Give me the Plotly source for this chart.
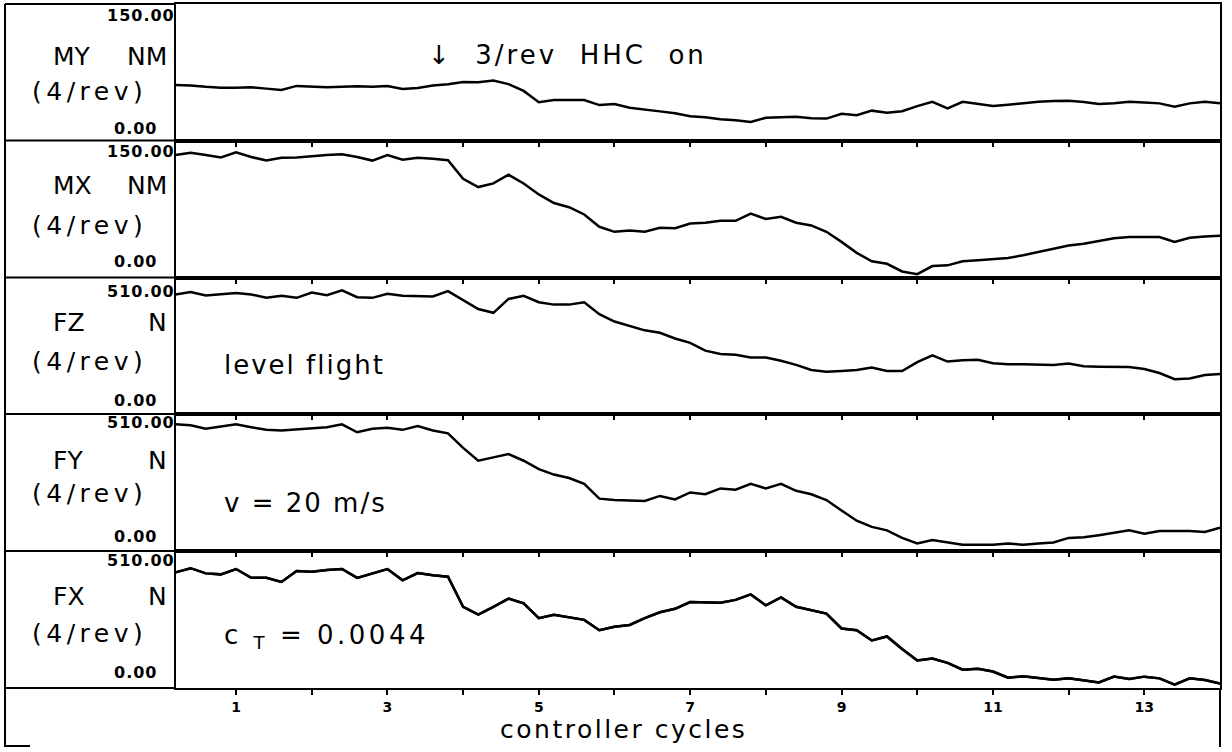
import plotly.graph_objects as go

W, H = 1232, 752

# ---------------- data ----------------
cycles = [0.2, 0.4, 0.6, 0.8, 1.0, 1.2, 1.4, 1.6, 1.8, 2.0,
          2.2, 2.4, 2.6, 2.8, 3.0, 3.2, 3.4, 3.6, 3.8, 4.0,
          4.2, 4.4, 4.6, 4.8, 5.0, 5.2, 5.4, 5.6, 5.8, 6.0,
          6.2, 6.4, 6.6, 6.8, 7.0, 7.2, 7.4, 7.6, 7.8, 8.0,
          8.2, 8.4, 8.6, 8.8, 9.0, 9.2, 9.4, 9.6, 9.8, 10.0,
          10.2, 10.4, 10.6, 10.8, 11.0, 11.2, 11.4, 11.6, 11.8, 12.0,
          12.2, 12.4, 12.6, 12.8, 13.0, 13.2, 13.4, 13.6, 13.8, 14.0]

my_nm = [61, 60.5, 59, 58, 58, 58.5, 57, 55.5, 60, 59,
         58.5, 59, 59.5, 59, 60, 56.7, 57.8, 60.5, 61.7, 64.4,
         63.9, 66, 62, 54.5, 42, 44.4, 44.4, 44.4, 38.9, 40,
         36, 34.4, 32, 30, 26.7, 25.5, 23.3, 22.2, 20.3, 25,
         25.5, 26, 24.4, 24.1, 29.4, 27.8, 32.8, 30.5, 32.2, 37.8,
         42.5, 35.2, 42.5, 40, 37.8, 39.4, 41, 42.5, 43.3, 43.7,
         42.2, 40, 41, 42.5, 41.7, 40.8, 37, 40.8, 42.5, 40.8]

mx_nm = [134, 136.5, 134, 131.5, 137, 132, 128, 131, 131.5, 133,
         134, 135, 132, 128, 134, 129, 131, 130, 128.5, 108,
         99, 103, 112.5, 103, 91, 81.5, 77, 69, 55.5, 50,
         51.5, 50, 54.5, 54, 59, 60, 62, 62, 70, 64,
         66.5, 60, 57, 50, 39, 27, 17.7, 15, 6.6, 3.7,
         12.5, 13.3, 17.7, 19, 20, 21.4, 24.4, 27.7, 31, 35,
         37, 40, 43, 44.3, 44.3, 44.3, 39, 43.6, 45, 45.8]

fz_n = [446.7, 455.6, 443, 446.7, 451.8, 446.7, 434, 441.7, 434, 454,
        444, 462, 436.6, 434, 449, 441.7, 441.7, 439, 459, 424,
        392, 378, 430, 441.7, 417.6, 408.7, 408.7, 417.6, 373, 345.5,
        329, 312.6, 303.7, 282, 265.7, 236.6, 224, 221.5, 211.3, 211.3,
        198.7, 183.5, 164.5, 158, 160.7, 164.5, 173.4, 160.7, 160.7, 193.6,
        219, 196, 201, 202.5, 189.8, 186, 186, 183.5, 183.5, 188.5,
        178.4, 177, 177, 176, 168, 153, 130, 133, 145.5, 149]

fy_n = [471.6, 467.7, 455, 464, 471.6, 461, 451, 448.5, 453.6, 457.5,
        461, 471.6, 442, 455, 458.8, 451, 465, 448.5, 438, 384,
        336, 348.5, 361, 336, 305, 284.5, 271.6, 250, 195, 189.6,
        187, 186, 205, 192, 218, 211.4, 233, 228, 250, 233,
        250, 224, 211, 189.6, 151, 112.8, 89.7, 76.9, 48.7, 28,
        41, 32, 23, 23, 23, 28, 23, 28, 32, 48.7,
        51, 59, 66.6, 77, 64, 74, 74, 74, 70.5, 87]

fx_n = [430.5, 446, 426.7, 423, 443, 410, 410, 394.7, 435.7, 433,
        439.5, 443, 410, 426.7, 443, 401, 428, 420, 414, 302.4,
        273, 302.4, 333, 315, 260, 273, 264, 253.7, 215, 228,
        234.5, 260, 282, 294.7, 320, 320, 317.8, 328, 348.5, 307.5,
        337, 302.4, 289.6, 276.8, 221.7, 215, 177, 192, 145, 102.5,
        110, 93.5, 68, 71.8, 61.5, 38.4, 43.6, 35.9, 30.8, 35.9,
        29.5, 20.5, 42.3, 33.3, 42.3, 35.9, 12.8, 35.9, 29.5, 16.7]

series = [my_nm, mx_nm, fz_n, fy_n, fx_n]
y_max = [150, 150, 510, 510, 510]
max_labels = ["150.00", "150.00", "510.00", "510.00", "510.00"]
names = ["MY", "MX", "FZ", "FY", "FX"]
units = ["NM", "NM", "N", "N", "N"]
x_tickvals = [1, 2, 3, 4, 5, 6, 7, 8, 9, 10, 11, 12, 13]
x_labelvals = [1, 3, 5, 7, 9, 11, 13]
x_labeltext = ["1", "3", "5", "7", "9", "11", "13"]
x_minorvals = [2, 4, 6, 8, 10, 12]

# ---------------- layout geometry (pixels) ----------------
PLOT_L, PLOT_R = 175.5, 1220
FRAME_L, FRAME_R, FRAME_T, FRAME_B = 5, 1220, 4, 747
bounds = [4, 140.5, 277.5, 414, 551, 688]

def px_x(x):
    return x / W

def px_y(y):
    return 1 - y / H

FONT = "DejaVu Sans"
XR = [0.2, 14.0]

fig = go.Figure()
for i, s in enumerate(series):
    k = "" if i == 0 else str(i + 1)
    fig.add_trace(go.Scatter(x=cycles, y=s, mode="lines",
                             line=dict(color="black", width=2.5),
                             xaxis="x" + k, yaxis="y" + k,
                             showlegend=False, hoverinfo="skip"))
# same FX line on the overlaid top-tick axis of the bottom panel (exactly coincident)
fig.add_trace(go.Scatter(x=cycles, y=fx_n, mode="lines",
                         line=dict(color="black", width=2.5),
                         xaxis="x6", yaxis="y5", showlegend=False, hoverinfo="skip"))

layout = dict(width=W, height=H, margin=dict(l=0, r=0, t=0, b=0),
              paper_bgcolor="white", plot_bgcolor="white", showlegend=False)

for i in range(5):
    k = "" if i == 0 else str(i + 1)
    dom_y = [px_y(bounds[i + 1]), px_y(bounds[i])]
    xa = dict(domain=[px_x(PLOT_L), px_x(PLOT_R)], range=XR,
              anchor="y" + k, showline=True, mirror=True, linecolor="black",
              linewidth=2, showgrid=False, zeroline=False, fixedrange=True)
    if i == 0:
        xa.update(ticks="", showticklabels=False)
    elif i < 4:
        xa.update(side="top", ticks="inside", ticklen=6, tickwidth=2,
                  tickcolor="black", tickvals=x_tickvals, showticklabels=False)
    else:
        xa.update(side="bottom", ticks="outside", ticklen=5, tickwidth=2,
                  tickcolor="black", tickvals=x_labelvals, ticktext=x_labeltext,
                  tickfont=dict(family=FONT, size=14, color="black", weight="bold"),
                  minor=dict(tickvals=x_minorvals, ticks="outside", ticklen=5,
                             tickwidth=2, tickcolor="black", showgrid=False))
    layout["xaxis" + k] = xa
    layout["yaxis" + k] = dict(domain=dom_y, range=[0, y_max[i]], anchor="x" + k,
                               showline=True, mirror=True, linecolor="black",
                               linewidth=2, showgrid=False, zeroline=False,
                               ticks="", showticklabels=False, fixedrange=True)

# top-side ticks on the bottom panel
layout["xaxis6"] = dict(overlaying="x5", anchor="y5", side="top", range=XR,
                        ticks="inside", ticklen=6, tickwidth=2, tickcolor="black",
                        tickvals=x_tickvals, showticklabels=False, showline=False,
                        showgrid=False, zeroline=False, fixedrange=True)
fig.update_layout(**layout)


def ann(text, x, y, xanchor="left", size=25, bold=False, ls=None):
    if ls:
        text = f'<span style="letter-spacing:{ls}px">{text}</span>'
    return dict(text=text, x=px_x(x), y=px_y(y), xref="paper", yref="paper",
                xanchor=xanchor, yanchor="middle", showarrow=False,
                font=dict(family=FONT, size=size, color="black",
                          weight="bold" if bold else "normal"))

anns = []
name_y = [56, 185, 322, 460, 596]
rev_y = [91, 226, 361, 493, 633]
max_y = [15, 151, 291, 422, 560]
zero_y = [128, 262, 400, 536, 672]
for i in range(5):
    anns.append(ann(names[i], 51, name_y[i]))
    anns.append(ann(units[i], 169, name_y[i], xanchor="right"))
    anns.append(ann("(4/rev)", 30, rev_y[i], ls=4.5))
    anns.append(ann(max_labels[i], 177, max_y[i], xanchor="right", size=16, bold=True, ls=1))
    anns.append(ann("0.00", 159, zero_y[i], xanchor="right", size=16, bold=True, ls=1))

anns.append(ann("↓\u00a0\u00a03/rev\u00a0\u00a0HHC\u00a0\u00a0on", 426, 55, size=26, ls=3))
anns.append(ann("level flight", 222, 365, size=26, ls=2))
anns.append(ann("v = 20 m/s", 222, 503, size=26, ls=2))
anns.append(ann("c <sub>T</sub> = 0.0044", 222, 636, size=26, ls=3.5))
anns.append(ann("controller cycles", 624, 729, xanchor="center", size=25, ls=2.5))
fig.update_layout(annotations=anns)

# frame lines around the label column and figure
shapes = []
def seg(x0, y0, x1, y1):
    shapes.append(dict(type="line", xref="paper", yref="paper",
                       x0=px_x(x0), y0=px_y(y0), x1=px_x(x1), y1=px_y(y1),
                       line=dict(color="black", width=2)))
seg(FRAME_L, FRAME_T, FRAME_L, FRAME_B)
seg(FRAME_R, bounds[-1], FRAME_R, FRAME_B)
for b in bounds:
    seg(FRAME_L, b, PLOT_L, b)
seg(FRAME_L, FRAME_B - 1, 30, FRAME_B - 1)
fig.update_layout(shapes=shapes)

fig.write_html("out.html")
